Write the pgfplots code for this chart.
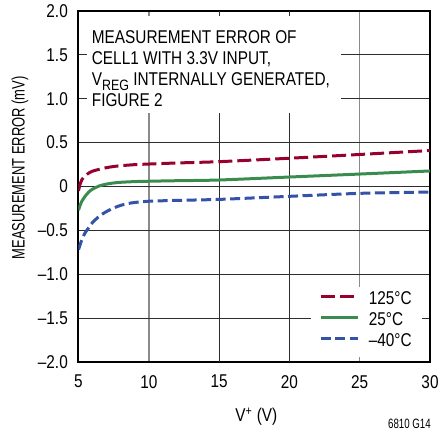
\documentclass[border=0pt]{standalone}
\usepackage{fontspec}
\setmainfont{Liberation Sans}[FakeStretch=0.83]
\newfontfamily\narrowfont{Liberation Sans}[FakeStretch=0.72]
\usepackage{pgfplots}
\pgfplotsset{compat=1.18}
\definecolor{cred}{RGB}{152,0,46}
\definecolor{cgreen}{RGB}{58,140,78}
\definecolor{cblue}{RGB}{52,82,168}
\definecolor{vgrid}{RGB}{138,138,138}
\definecolor{hgrid}{RGB}{45,45,45}
\newcommand{\fs}{\fontsize{18.5}{22}\selectfont}
\begin{document}
\begin{tikzpicture}
\useasboundingbox (-78.5pt,-71pt) rectangle (359.5pt,362pt);
\begin{axis}[
  at={(0pt,0pt)}, anchor=south west,
  scale only axis, width=351.5pt, height=351pt,
  xmin=5, xmax=30, ymin=-2, ymax=2,
  xtick={5,10,25,30},
  xticklabels={5,10,25,30},
  extra x ticks={15,20},
  extra x tick labels={15,20},
  extra x tick style={grid=major, x grid style={hgrid, line width=1.1pt}},
  ytick={-2,-1.5,-1,-0.5,0,0.5,1,1.5,2},
  yticklabels={{--2.0},{--1.5},{--1.0},{--0.5},0,0.5,1.0,1.5,2.0},
  major tick length=0pt,
  tick label style={font=\fs, inner sep=0pt},
  yticklabel style={anchor=east, xshift=-10.5pt},
  xticklabel style={anchor=north, yshift=-13pt},
  grid=major,
  x grid style={vgrid, line width=1.4pt},
  y grid style={hgrid, line width=1.1pt},
  axis line style={black, line width=2pt},
  xlabel={V\textsuperscript{+} (V)},
  xlabel style={font=\fs, at={(axis description cs:0.506,-0.1701)}, anchor=base, inner sep=0pt},
  ylabel={MEASUREMENT ERROR (mV)},
  ylabel style={font=\narrowfont\fontsize{18}{21}\selectfont, at={(axis description cs:-0.1664,0.553)}, anchor=center, inner sep=0pt},
  legend style={at={(axis cs:22.1,-1.2)}, anchor=north west, draw=none, fill=none, inner sep=0pt, row sep=8.5pt, column sep=0pt,
    nodes={inner sep=0pt, text height=12.5pt, text depth=0pt, font=\fs}},
  legend cell align=left,
  legend image code/.code={\draw[#1] (0pt,2pt) -- (37.3pt,2pt); \path (0pt,0pt) (46.7pt,0pt);},
]
\fill[white] (axis cs:5.60,1.943) rectangle (axis cs:23.67,0.838);
\fill[white] (axis cs:21.54,-1.145) rectangle (axis cs:29.43,-1.943);
\addplot[cred, line width=3pt, dash pattern=on 14pt off 5pt, smooth, tension=0.4] coordinates {
(5.0,-0.05) (5.1,0.02) (5.25,0.08) (5.5,0.125) (5.75,0.155) (6.0,0.175) (6.5,0.197) (7.0,0.215) (7.5,0.228) (8.0,0.237) (9.0,0.249) (10,0.256) (12,0.268) (15,0.283) (20,0.322) (25,0.365) (30,0.41)};
\addlegendentry{125°C}
\addplot[cgreen, line width=3pt, smooth, tension=0.4] coordinates {
(5.0,-0.27) (5.1,-0.22) (5.25,-0.165) (5.5,-0.105) (5.75,-0.06) (6.0,-0.03) (6.5,0.008) (7.0,0.028) (7.5,0.04) (8.0,0.048) (9.0,0.056) (10,0.06) (12,0.066) (15,0.074) (20,0.108) (25,0.142) (30,0.177)};
\addlegendentry{25°C}
\addplot[cblue, line width=3pt, dash pattern=on 10pt off 4.5pt, smooth, tension=0.4] coordinates {
(5.0,-0.72) (5.25,-0.6) (5.5,-0.52) (5.75,-0.465) (6.0,-0.41) (6.5,-0.335) (7.0,-0.285) (7.5,-0.245) (8.0,-0.215) (8.5,-0.195) (9.0,-0.182) (10,-0.168) (12,-0.158) (15,-0.147) (20,-0.112) (25,-0.078) (30,-0.063)};
\addlegendentry{--40°C}
\end{axis}
\begin{scope}[every node/.style={font=\fs, anchor=base west, inner sep=0pt}]
\node at (13.2pt,318.5pt) {MEASUREMENT ERROR OF};
\node at (13.2pt,297.4pt) {CELL1 WITH 3.3V INPUT,};
\node at (13.2pt,276.4pt) {V\raisebox{-4.5pt}{\fontsize{15}{15}\selectfont REG} INTERNALLY GENERATED,};
\node at (13.2pt,255.3pt) {FIGURE 2};
\end{scope}
\node[font=\narrowfont\fontsize{13.5}{13.5}\selectfont, anchor=base east, inner sep=0pt] at (352.5pt,-66pt) {6810 G14};
\end{tikzpicture}
\end{document}
